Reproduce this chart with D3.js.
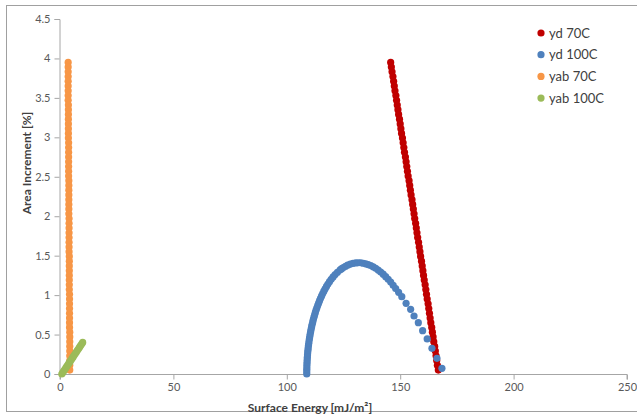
<!DOCTYPE html>
<html>
<head>
<meta charset="utf-8">
<script src="https://cdn.jsdelivr.net/npm/d3@7"></script>
<style>
  html, body { margin: 0; padding: 0; background: #fff; }
  svg { display: block; font-family: Lato, "Open Sans", sans-serif; }
</style>
</head>
<body>
<div id="chart"></div>
<script>
// tick values
const xTicks = [0, 50, 100, 150, 200, 250];
const yTicks = [0, 0.5, 1, 1.5, 2, 2.5, 3, 3.5, 4, 4.5];

// yd 70C
const yd70X = [145.8,146.1,146.4,146.8,147.1,147.4,147.7,148.1,148.4,148.7,149.0,149.3,149.7,150.0,150.3,150.6,151.0,151.3,151.6,151.9,152.3,152.6,152.9,153.2,153.5,153.9,154.2,154.5,154.8,155.2,155.5,155.8,156.1,156.4,156.8,157.1,157.4,157.7,158.1,158.4,158.7,159.0,159.4,159.7,160.0,160.3,160.6,161.0,161.3,161.6,161.9,162.3,162.6,162.9,163.2,163.5,163.9,164.2,164.5,164.8,165.2,165.5,165.8,166.1,166.4,166.8];
const yd70Y = [3.95,3.89,3.83,3.77,3.71,3.65,3.59,3.53,3.47,3.41,3.35,3.29,3.23,3.17,3.11,3.05,2.99,2.93,2.87,2.81,2.75,2.69,2.63,2.57,2.51,2.45,2.39,2.33,2.27,2.21,2.15,2.09,2.03,1.97,1.91,1.85,1.79,1.73,1.67,1.61,1.55,1.49,1.43,1.37,1.31,1.25,1.19,1.13,1.07,1.01,0.95,0.89,0.83,0.77,0.71,0.65,0.59,0.53,0.47,0.41,0.35,0.29,0.23,0.17,0.11,0.05];

// yd 100C
const yd100X = [108.8,108.81,108.82,108.85,108.88,108.93,108.99,109.05,109.13,109.22,109.32,109.43,109.55,109.69,109.83,109.99,110.16,110.34,110.53,110.74,110.96,111.19,111.44,111.70,111.98,112.28,112.59,112.92,113.27,113.64,114.03,114.44,114.87,115.34,115.83,116.35,116.91,117.50,118.14,118.83,119.58,120.40,121.31,122.34,123.52,124.2,124.95,125.9,126.84,128.0,129.2,130.4,131.5,
  132.6,133.7,134.8,135.9,137.0,138.1,139.2,140.3,141.4,142.5,143.6,144.7,145.8,146.9,148.0,149.3,150.7,152.6,154.6,156.1,158.0,159.9,161.9,164.0,166.2,168.4];
const yd100Y = [0,0.03,0.06,0.09,0.12,0.15,0.18,0.21,0.24,0.27,0.30,0.33,0.36,0.39,0.42,0.45,0.48,0.51,0.54,0.57,0.60,0.63,0.66,0.69,0.72,0.75,0.78,0.81,0.84,0.87,0.90,0.93,0.96,0.99,1.02,1.05,1.08,1.11,1.14,1.17,1.20,1.23,1.26,1.29,1.32,1.335,1.35,1.366,1.38,1.393,1.403,1.408,1.41,
  1.41,1.404,1.397,1.387,1.374,1.358,1.339,1.317,1.292,1.265,1.234,1.201,1.165,1.125,1.083,1.035,0.98,0.896,0.82,0.735,0.65,0.549,0.444,0.326,0.199,0.072];

// yab 70C
const yab70X = [3.6,3.6,3.6,3.6,3.6,3.6,3.6,3.6,3.6,3.7,3.7,3.7,3.7,3.7,3.7,3.7,3.7,3.8,3.8,3.8,3.8,3.8,3.8,3.8,3.8,3.9,3.9,3.9,3.9,3.9,3.9,3.9,3.9,4.0,4.0,4.0,4.0,4.0,4.0,4.0,4.0,4.1,4.1,4.1,4.1,4.1,4.1,4.1,4.1,4.2,4.2,4.2,4.2,4.2,4.2,4.2,4.2,4.3,4.3,4.3,4.3,4.3,4.3,4.3,4.3,4.3];
const yab70Y = yd70Y.slice();

// yab 100C
const yab100X = [0.8,1.26,1.72,2.18,2.64,3.1,3.56,4.02,4.48,4.94,5.4,5.86,6.32,6.78,7.24,7.7,8.16,8.62,9.08,9.54,10.0];
const yab100Y = [0,0.02,0.04,0.06,0.08,0.10,0.12,0.14,0.16,0.18,0.20,0.22,0.24,0.26,0.28,0.30,0.32,0.34,0.36,0.38,0.40];

const seriesNames = ["yd 70C", "yd 100C", "yab 70C", "yab 100C"];
const seriesColors = ["#C00000", "#4F81BD", "#F79646", "#9BBB59"];
const seriesX = [yd70X, yd100X, yab70X, yab100X];
const seriesY = [yd70Y, yd100Y, yab70Y, yab100Y];

const W = 637, H = 417;
const svg = d3.select("#chart").append("svg")
    .attr("width", W)
    .attr("height", H);

// chart frame
svg.append("rect")
    .attr("x", 6.5).attr("y", 5.5)
    .attr("width", W + 10).attr("height", H - 11)
    .attr("fill", "none")
    .attr("stroke", "#A0A0A0")
    .attr("stroke-width", 1);

const x = d3.scaleLinear().domain([0, 250]).range([60, 627]);
const y = d3.scaleLinear().domain([0, 4.5]).range([374, 19]);

const axisColor = "#A6A6A6";
const labelColor = "#595959";

const gx = svg.append("g")
    .attr("transform", `translate(0,${y(0) + 0.5})`)
    .call(d3.axisBottom(x).tickValues(xTicks).tickSize(5).tickPadding(4).tickFormat(d3.format("")));
const gy = svg.append("g")
    .attr("transform", `translate(${x(0) - 0.5},0)`)
    .call(d3.axisLeft(y).tickValues(yTicks).tickSize(5).tickPadding(4).tickFormat(d3.format("")));

[gx, gy].forEach(g => {
    g.select(".domain").attr("stroke", axisColor);
    g.selectAll(".tick line").attr("stroke", axisColor);
    g.selectAll(".tick text")
        .attr("fill", labelColor)
        .style("font-size", "11px")
        .style("font-family", "Lato, sans-serif");
});
gx.select(".domain").attr("d", `M${x(0)},5V0H${x(250)}V5`);

// axis titles
svg.append("text")
    .attr("x", 310).attr("y", 412)
    .attr("text-anchor", "middle")
    .attr("fill", "#404040")
    .style("font-size", "12px")
    .style("font-weight", "bold")
    .text("Surface Energy [mJ/m²]");

svg.append("text")
    .attr("transform", "translate(31,163) rotate(-90)")
    .attr("text-anchor", "middle")
    .attr("fill", "#404040")
    .style("font-size", "12px")
    .style("font-weight", "bold")
    .text("Area Increment [%]");

// series
const plot = svg.append("g");
seriesNames.forEach((name, i) => {
    const pts = seriesX[i].map((v, j) => [v, seriesY[i][j]]);
    plot.append("g")
        .attr("fill", seriesColors[i])
        .selectAll("circle")
        .data(pts)
        .join("circle")
        .attr("cx", d => x(d[0]))
        .attr("cy", d => y(d[1]))
        .attr("r", 3.6);
});

// legend
const legend = svg.append("g").attr("transform", "translate(541,33)");
seriesNames.forEach((name, i) => {
    const row = legend.append("g").attr("transform", `translate(0,${i * 21.7})`);
    row.append("circle").attr("r", 3.6).attr("fill", seriesColors[i]);
    row.append("text")
        .attr("x", 8).attr("dy", "0.36em")
        .attr("fill", "#404040")
        .style("font-size", "13px")
        .text(name);
});
</script>
</body>
</html>
